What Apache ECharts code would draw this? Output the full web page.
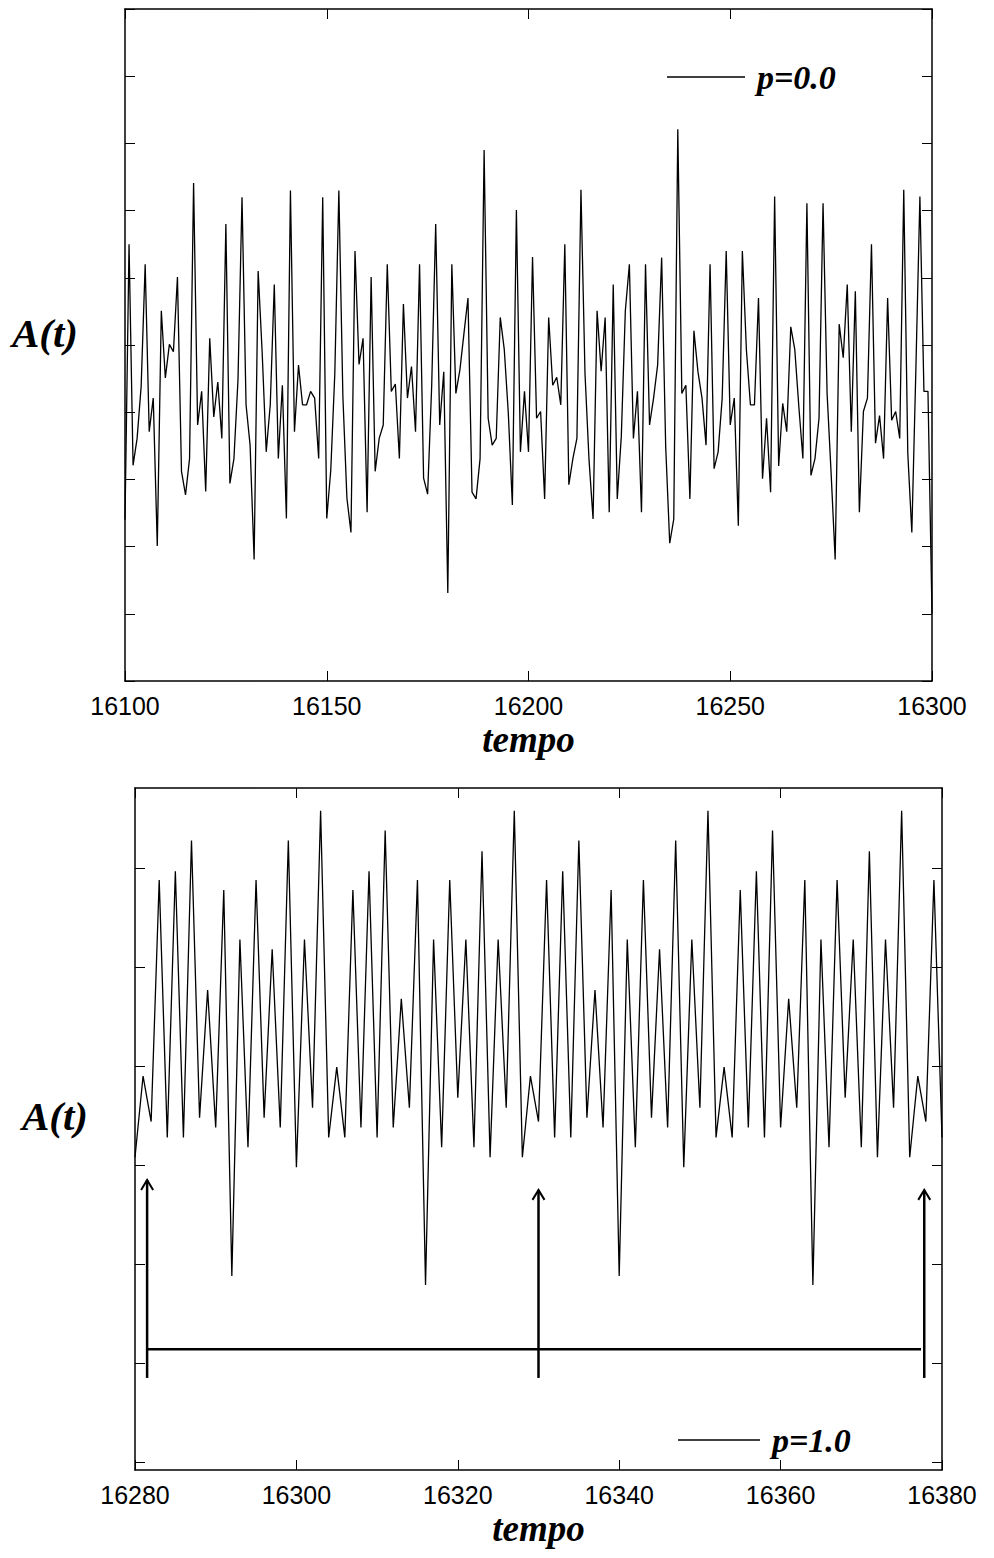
<!DOCTYPE html>
<html>
<head>
<meta charset="utf-8">
<script src="https://cdn.jsdelivr.net/npm/echarts@6/dist/echarts.min.js"></script>
<style>
  html, body { margin: 0; padding: 0; background: #fff; }
  #chart { width: 994px; height: 1558px; }
</style>
</head>
<body>
<div id="chart"></div>
<script>
// pannello superiore: p=0.0, t = 16100 ... 16300
const topStart = 16100
const topValues = [
  2.40, 6.50, 3.21, 3.61, 4.38, 6.20, 3.71, 4.21, 2.01, 5.51,
  4.51, 5.01, 4.90, 6.01, 3.12, 2.77, 3.31, 7.41, 3.81, 4.31,
  2.82, 5.10, 3.93, 4.45, 3.61, 6.80, 2.94, 3.31, 4.48, 7.20,
  4.11, 3.51, 1.81, 6.10, 4.88, 3.41, 4.11, 5.90, 3.31, 4.40,
  2.42, 7.30, 3.71, 4.70, 4.11, 4.11, 4.31, 4.21, 3.31, 7.20,
  2.42, 3.14, 4.58, 7.30, 4.23, 2.72, 2.21, 6.40, 4.71, 5.10,
  2.51, 6.01, 3.12, 3.61, 3.81, 6.20, 4.31, 4.42, 3.31, 5.61,
  4.21, 4.68, 3.71, 6.20, 3.02, 2.78, 4.38, 6.80, 3.81, 4.60,
  1.31, 6.20, 4.28, 4.63, 5.17, 5.70, 2.81, 2.71, 3.31, 7.90,
  3.91, 3.51, 3.61, 5.41, 4.93, 3.98, 2.62, 7.01, 3.41, 4.31,
  3.41, 6.31, 3.91, 4.01, 2.71, 5.41, 4.40, 4.52, 4.11, 6.50,
  2.92, 3.31, 3.61, 7.31, 4.58, 3.29, 2.41, 5.51, 4.61, 5.41,
  2.51, 5.90, 2.71, 3.64, 5.51, 6.20, 3.61, 4.31, 2.51, 6.20,
  3.81, 4.21, 4.70, 6.30, 3.49, 2.05, 2.41, 8.21, 4.28, 4.40,
  2.71, 5.21, 4.60, 4.21, 3.51, 6.20, 3.16, 3.41, 4.21, 6.40,
  3.81, 4.21, 2.31, 6.40, 4.93, 4.11, 4.11, 5.70, 3.01, 3.91,
  2.81, 7.21, 3.20, 4.13, 3.71, 5.27, 4.93, 4.08, 3.31, 7.11,
  3.06, 3.31, 3.91, 7.11, 4.28, 3.09, 1.81, 5.31, 4.81, 5.90,
  3.71, 5.80, 2.51, 4.01, 4.21, 6.50, 3.54, 3.95, 3.31, 5.70,
  3.88, 4.01, 3.61, 7.31, 3.39, 2.21, 4.63, 7.21, 4.31, 4.31,
  1.00
]

// pannello inferiore: p=1.0, t = 16280 ... 16380
const botStart = 16280
const botValues = [
  2.08, 2.90, 2.44, 4.88, 2.28, 4.97, 2.28, 5.28, 2.48, 3.77,
  2.38, 4.78, 0.88, 4.28, 2.18, 4.88, 2.48, 4.18, 2.38, 5.28,
  1.98, 4.28, 2.58, 5.58, 2.28, 2.99, 2.28, 4.78, 2.38, 4.97,
  2.28, 5.38, 2.38, 3.68, 2.58, 4.88, 0.79, 4.28, 2.18, 4.88,
  2.68, 4.28, 2.18, 5.17, 2.08, 4.28, 2.58, 5.58, 2.08, 2.90,
  2.44, 4.88, 2.28, 4.97, 2.28, 5.28, 2.48, 3.77, 2.38, 4.78,
  0.88, 4.28, 2.18, 4.88, 2.48, 4.18, 2.38, 5.28, 1.98, 4.28,
  2.58, 5.58, 2.28, 2.99, 2.28, 4.78, 2.38, 4.97, 2.28, 5.38,
  2.38, 3.68, 2.58, 4.88, 0.79, 4.28, 2.18, 4.88, 2.68, 4.28,
  2.18, 5.17, 2.08, 4.28, 2.58, 5.58, 2.08, 2.90, 2.44, 4.88,
  2.28
]

// frecce e barra del periodo (pannello inferiore)
const arrowTimes = [16281.5, 16330, 16377.8]
const arrowTips = [1.85, 1.75, 1.75]
const arrowFoot = -0.15
const periodBarTimes = [16281.5, 16377.4]
const periodBarLevel = 0.14

// tick dell'asse y inferiore
const botYTicks = [-1, 0, 1, 2, 3, 4, 5]

const serifBI = {
  fontFamily: 'Liberation Serif',
  fontStyle: 'italic',
  fontWeight: 'bold',
  color: '#000'
}
const black = { color: '#000', width: 1.5 }

function frameX(gridIndex, min, max, interval, position, withLabels) {
  return {
    gridIndex: gridIndex,
    type: 'value',
    position: position,
    min: min,
    max: max,
    interval: interval,
    axisLine: { show: true, onZero: false, lineStyle: black },
    axisTick: { show: true, inside: true, length: 10, lineStyle: { color: '#000', width: 1 } },
    axisLabel: withLabels
      ? { show: true, color: '#000', fontSize: 25, fontFamily: 'Liberation Sans', margin: 12, formatter: v => String(v) }
      : { show: false },
    splitLine: { show: false }
  }
}

function frameY(gridIndex, min, max, position, extra) {
  return Object.assign({
    gridIndex: gridIndex,
    type: 'value',
    position: position,
    min: min,
    max: max,
    axisLine: { show: true, onZero: false, lineStyle: black },
    axisTick: { show: true, inside: true, length: 10, lineStyle: { color: '#000', width: 1 } },
    axisLabel: { show: false },
    splitLine: { show: false }
  }, extra)
}

const chart = echarts.init(document.getElementById('chart'), null, { renderer: 'svg' })

const option = {
  backgroundColor: '#fff',
  animation: false,
  grid: [
    { left: 125, top: 9, width: 807, height: 672 },
    { left: 135, top: 788, width: 807, height: 682 }
  ],
  legend: [
    {
      data: ['p=0.0'],
      icon: 'rect',
      left: 667, top: 60, padding: 0,
      itemWidth: 78, itemHeight: 1.4,
      textStyle: Object.assign({ fontSize: 34, padding: [0, 0, 0, 7] }, serifBI)
    },
    {
      data: ['p=1.0'],
      icon: 'rect',
      left: 678, top: 1423, padding: 0,
      itemWidth: 82, itemHeight: 1.4,
      textStyle: Object.assign({ fontSize: 34, padding: [0, 0, 0, 7] }, serifBI)
    }
  ],
  xAxis: [
    Object.assign(frameX(0, 16100, 16300, 50, 'bottom', true), {
      name: 'tempo', nameLocation: 'middle', nameGap: 40,
      nameTextStyle: Object.assign({ fontSize: 37 }, serifBI)
    }),
    frameX(0, 16100, 16300, 50, 'top', false),
    Object.assign(frameX(1, 16280, 16380, 20, 'bottom', true), {
      name: 'tempo', nameLocation: 'middle', nameGap: 40,
      nameTextStyle: Object.assign({ fontSize: 37 }, serifBI)
    }),
    frameX(1, 16280, 16380, 20, 'top', false)
  ],
  yAxis: [
    frameY(0, 0, 10, 'left', {
      interval: 1,
      name: 'A(t)', nameLocation: 'middle', nameRotate: 0, nameGap: 47,
      nameTextStyle: Object.assign({ fontSize: 41, verticalAlign: 'bottom', lineHeight: 24 }, serifBI)
    }),
    frameY(0, 0, 10, 'right', { interval: 1 }),
    frameY(1, -1.08, 5.81, 'left', {
      axisTick: { show: true, inside: true, length: 10, customValues: botYTicks, lineStyle: { color: '#000', width: 1 } },
      name: 'A(t)', nameLocation: 'middle', nameRotate: 0, nameGap: 47,
      nameTextStyle: Object.assign({ fontSize: 41, verticalAlign: 'bottom', lineHeight: 26 }, serifBI)
    }),
    frameY(1, -1.08, 5.81, 'right', {
      axisTick: { show: true, inside: true, length: 10, customValues: botYTicks, lineStyle: { color: '#000', width: 1 } }
    })
  ],
  series: [
    {
      name: 'p=0.0',
      type: 'line',
      xAxisIndex: 0,
      yAxisIndex: 0,
      symbol: 'none',
      lineStyle: { color: '#000', width: 1.3 },
      itemStyle: { color: '#000' },
      data: topValues.map((v, i) => [topStart + i, v])
    },
    {
      name: 'p=1.0',
      type: 'line',
      xAxisIndex: 2,
      yAxisIndex: 2,
      symbol: 'none',
      lineStyle: { color: '#000', width: 1.3 },
      itemStyle: { color: '#000' },
      data: botValues.map((v, i) => [botStart + i, v])
    },
    {
      type: 'line',
      xAxisIndex: 2,
      yAxisIndex: 2,
      symbol: 'none',
      lineStyle: { color: '#000', width: 2.5 },
      data: periodBarTimes.map(t => [t, periodBarLevel])
    },
    {
      type: 'custom',
      xAxisIndex: 2,
      yAxisIndex: 2,
      data: arrowTimes.map((t, i) => [t, arrowTips[i], arrowFoot]),
      renderItem: function (params, api) {
        const foot = api.coord([api.value(0), api.value(2)])
        const tip = api.coord([api.value(0), api.value(1)])
        return {
          type: 'group',
          children: [
            {
              type: 'line',
              shape: { x1: foot[0], y1: foot[1], x2: tip[0], y2: tip[1] },
              style: { stroke: '#000', lineWidth: 2.5 }
            },
            {
              type: 'polyline',
              shape: { points: [[tip[0] - 6, tip[1] + 10], [tip[0], tip[1]], [tip[0] + 6, tip[1] + 10]] },
              style: { stroke: '#000', lineWidth: 2, fill: null }
            }
          ]
        }
      }
    }
  ]
}

chart.setOption(option)
</script>
</body>
</html>
